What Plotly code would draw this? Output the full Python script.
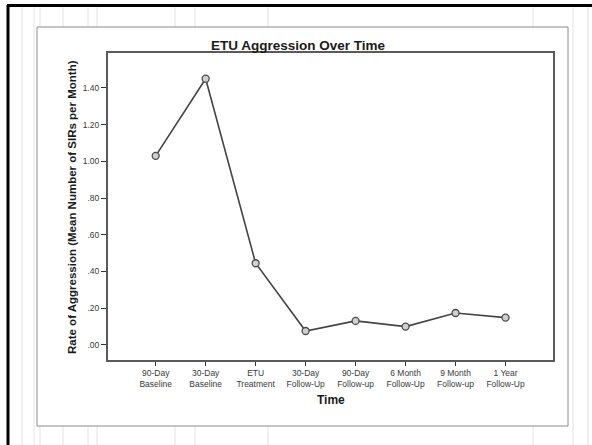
import plotly.graph_objects as go

cat_line1 = ["90-Day", "30-Day", "ETU", "30-Day", "90-Day", "6 Month", "9 Month", "1 Year"]
cat_line2 = ["Baseline", "Baseline", "Treatment", "Follow-Up", "Follow-up", "Follow-Up", "Follow-up", "Follow-Up"]
rates = [1.03, 1.45, 0.445, 0.076, 0.131, 0.10, 0.174, 0.149]
ytick_vals = [0, 0.2, 0.4, 0.6, 0.8, 1.0, 1.2, 1.4]
ytick_text = [".00", ".20", ".40", ".60", ".80", "1.00", "1.20", "1.40"]

W, H = 592, 445
L, R, T, PB = 108, 553, 53, 400   # plotting space (paper) pixels
AXB = 360                          # bottom of the plot area


def px(x):
    return (x - L) / (R - L)


def py(y):
    return (PB - y) / (PB - T)


idx = list(range(len(cat_line1)))

fig = go.Figure()
fig.add_trace(go.Scatter(
    x=idx, y=rates, mode="lines+markers",
    line=dict(color="#444444", width=1.6),
    marker=dict(symbol="circle", size=7, color="#d0d0d0", line=dict(color="#4a4a4a", width=1.3)),
    showlegend=False, hoverinfo="y"))
# invisible trace on secondary x axis that carries the second line of the category labels
fig.add_trace(go.Scatter(x=idx, y=rates, xaxis="x2", mode="markers", marker=dict(opacity=0),
                         showlegend=False, hoverinfo="skip"))

shapes = []
for xv in [22, 34, 40, 63, 88, 97, 175, 195, 268, 533, 573, 588]:
    shapes.append(dict(type="line", xref="paper", yref="paper", x0=px(xv), x1=px(xv), y0=py(445), y1=py(7),
                       line=dict(color="#e2e2e2", width=1), layer="below"))
shapes.append(dict(type="rect", xref="paper", yref="paper", x0=px(37), x1=px(568), y0=py(426), y1=py(27),
                   fillcolor="white", line=dict(color="#8a8a8a", width=1), layer="below"))
shapes.append(dict(type="line", xref="paper", yref="paper", x0=px(7), x1=px(592), y0=py(5.5), y1=py(5.5),
                   line=dict(color="black", width=3)))
shapes.append(dict(type="line", xref="paper", yref="paper", x0=px(8), x1=px(8), y0=py(445), y1=py(5),
                   line=dict(color="black", width=3)))

annotations = [
    dict(text="<b>ETU Aggression Over Time</b>", xref="paper", yref="paper", x=px(298), y=py(45),
         showarrow=False, font=dict(family="Arial", size=13.5, color="#1a1a1a"), xanchor="center", yanchor="middle"),
    dict(text="<b>Rate of Aggression (Mean Number of SIRs per Month)</b>", xref="paper", yref="paper",
         x=px(72), y=py(207), textangle=-90, showarrow=False,
         font=dict(family="Arial", size=11.5, color="#1a1a1a"), xanchor="center", yanchor="middle"),
    dict(text="<b>Time</b>", xref="paper", yref="paper", x=px(331), y=py(400), showarrow=False,
         font=dict(family="Arial", size=12, color="#1a1a1a"), xanchor="center", yanchor="middle"),
]

tickfont = dict(family="Arial", size=8.5, color="#3a3a3a")
fig.update_layout(
    width=W, height=H,
    margin=dict(l=L, r=W - R, t=T, b=H - PB, pad=0),
    paper_bgcolor="white", plot_bgcolor="#f0f0f0",
    shapes=shapes, annotations=annotations,
    xaxis=dict(tickmode="array", tickvals=idx, ticktext=cat_line1, anchor="y",
               range=[-0.954, 7.95], showgrid=False, zeroline=False,
               showline=True, mirror=True, linecolor="#5a5a5a", linewidth=2,
               ticks="outside", ticklen=4, tickcolor="#333333", tickwidth=1,
               tickfont=tickfont),
    xaxis2=dict(tickmode="array", tickvals=idx, ticktext=cat_line2, overlaying="x", side="bottom",
                anchor="free", position=py(377),
                range=[-0.954, 7.95], showgrid=False, zeroline=False, showline=False,
                ticks="", tickfont=tickfont),
    yaxis=dict(tickmode="array", tickvals=ytick_vals, ticktext=ytick_text, domain=[py(AXB), 1],
               range=[-0.082, 1.59], showgrid=False, zeroline=False,
               showline=True, mirror=True, linecolor="#5a5a5a", linewidth=2,
               ticks="outside", ticklen=5, tickcolor="#333333", tickwidth=1,
               tickfont=dict(family="Arial", size=8.5, color="#3a3a3a")),
)

fig.write_html("out.html", config={"displayModeBar": False},
               post_script="document.body.style.margin='0';document.body.style.overflow='hidden';")
